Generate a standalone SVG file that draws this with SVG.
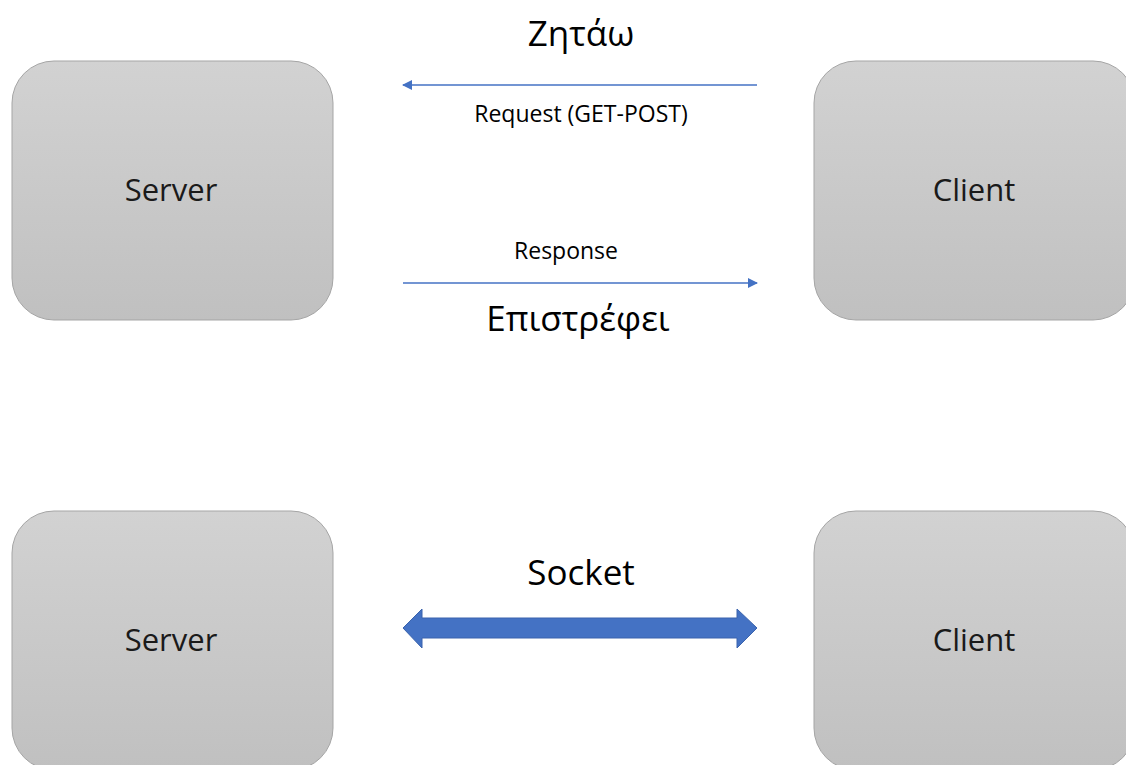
<svg xmlns="http://www.w3.org/2000/svg" width="1126" height="765" viewBox="0 0 1126 765">
  <defs>
    <linearGradient id="boxFill" x1="0" y1="0" x2="0" y2="1">
      <stop offset="0" stop-color="#d2d2d2"/>
      <stop offset="1" stop-color="#c0c0c0"/>
    </linearGradient>
    <marker id="arrowHead" viewBox="0 0 10 10" refX="9" refY="5" markerWidth="10" markerHeight="10" markerUnits="userSpaceOnUse" orient="auto">
      <path d="M0,0 L10,5 L0,10 z" fill="#4472c4"/>
    </marker>
    <style>
      .box { fill: url(#boxFill); stroke: #a5a5a5; stroke-width: 1; }
      .node-label { font-family: "Open Sans", "Noto Sans", sans-serif; font-size: 31px; fill: #1a1a1a; text-anchor: middle; }
      .big-label { font-family: "Open Sans", "Noto Sans", sans-serif; font-size: 35px; fill: #000; text-anchor: middle; }
      .small-label { font-family: "Open Sans", "Noto Sans", sans-serif; font-size: 23px; fill: #000; text-anchor: middle; }
      .thin-arrow { stroke: #4472c4; stroke-width: 1.5; fill: none; marker-end: url(#arrowHead); }
      .fat-arrow { fill: #4472c4; stroke: #3a63ad; stroke-width: 1; }
    </style>
  </defs>

  <rect width="1126" height="765" fill="#ffffff"/>

  <g id="server-top">
    <rect class="box" x="12" y="61" width="321" height="259" rx="42" ry="42"/>
    <text class="node-label" x="171" y="201">Server</text>
  </g>
  <g id="client-top">
    <rect class="box" x="814" y="61" width="321" height="259" rx="42" ry="42"/>
    <text class="node-label" x="974" y="201">Client</text>
  </g>
  <g id="server-bottom">
    <rect class="box" x="12" y="511" width="321" height="259" rx="42" ry="42"/>
    <text class="node-label" x="171" y="651">Server</text>
  </g>
  <g id="client-bottom">
    <rect class="box" x="814" y="511" width="321" height="259" rx="42" ry="42"/>
    <text class="node-label" x="974" y="651">Client</text>
  </g>

  <g id="connectors">
    <!-- request: client to server -->
    <line class="thin-arrow" x1="757" y1="85" x2="403" y2="85"/>
    <!-- response: server to client -->
    <line class="thin-arrow" x1="403" y1="283" x2="757" y2="283"/>
    <!-- socket: two-way block arrow -->
    <path class="fat-arrow" d="M403,628 L422,609 L422,618 L737,618 L737,609 L757,628 L737,648 L737,638 L422,638 L422,648 Z"/>
  </g>

  <g id="labels">
    <text class="big-label" x="581" y="46">Ζητάω</text>
    <text class="small-label" x="581" y="122">Request (GET-POST)</text>
    <text class="small-label" x="566" y="259">Response</text>
    <text class="big-label" x="578" y="331">Επιστρέφει</text>
    <text class="big-label" x="581" y="585">Socket</text>
  </g>
</svg>
